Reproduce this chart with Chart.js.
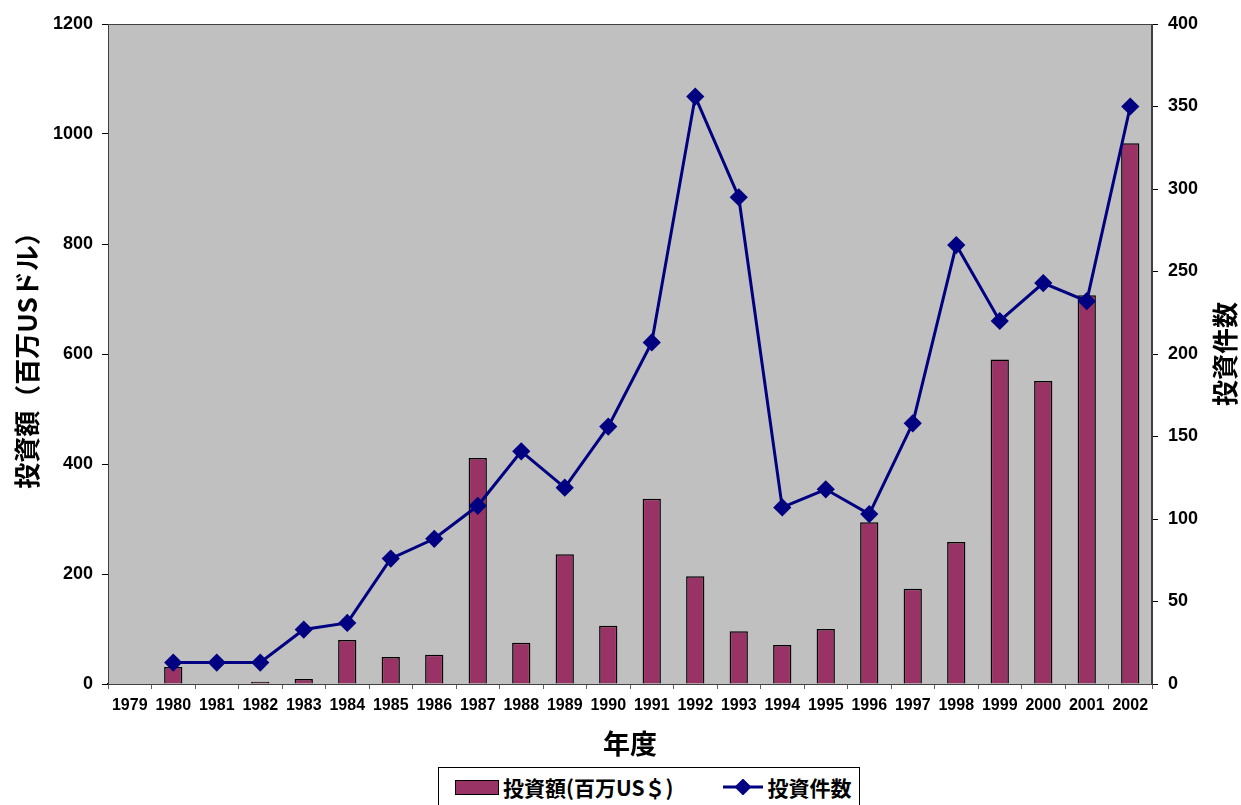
<!DOCTYPE html>
<html>
<head>
<meta charset="utf-8">
<script src="https://cdn.jsdelivr.net/npm/chart.js@4/dist/chart.umd.min.js"></script>
<style>
  body { margin: 0; background: #fff; overflow: hidden; }
  #wrap { position: relative; width: 1241px; height: 805px; }
  #legend {
    position: absolute; left: 438px; top: 767px; width: 422px; height: 40px;
    border: 1px solid #000; background: #fff; box-sizing: border-box;
    font-family: 'Noto Sans CJK JP', sans-serif; font-weight: bold; font-size: 21px;
    display: flex; align-items: center;
  }
  #legend .item { display: flex; align-items: center; }
  #legend .swatch { width: 42px; height: 13px; background: #993366; border: 1px solid #000; margin: 0 4px 0 16px; }
  #legend svg { margin: 0 4px 0 50px; }
</style>
</head>
<body>
<div id="wrap">
  <canvas id="chart" width="1241" height="805"></canvas>
  <div id="legend">
    <div class="item"><div class="swatch"></div><span>投資額(百万US＄)</span></div>
    <div class="item">
      <svg width="40" height="16"><line x1="0" y1="8" x2="40" y2="8" stroke="#000080" stroke-width="3"/><rect x="14" y="2" width="12" height="12" fill="#000080" transform="rotate(45 20 8)"/></svg>
      <span>投資件数</span>
    </div>
  </div>
</div>
<script>
// Data
const years = ['1979', '1980', '1981', '1982', '1983', '1984', '1985', '1986', '1987', '1988', '1989', '1990',
  '1991', '1992', '1993', '1994', '1995', '1996', '1997', '1998', '1999', '2000', '2001', '2002'];
// 投資額 (百万USドル) - left axis
const amounts = [null, 31, null, 4, 9, 80, 49, 53, 411, 75, 236, 106, 337, 196, 96, 71, 100, 294, 173, 258, 590, 551, 707, 983];
// 投資件数 - right axis
const counts = [null, 13, 13, 13, 33, 37, 76, 88, 108, 141, 119, 156, 207, 356, 295, 107, 118, 103, 158, 266, 220, 243, 232, 350];

const leftTicks = { min: 0, max: 1200, step: 200 };
const rightTicks = { min: 0, max: 400, step: 50 };

const tickFont = { family: "'Liberation Sans', Arial, sans-serif", weight: 'bold', size: 18 };
const titleFont = { family: "'Noto Sans CJK JP', sans-serif", weight: 'bold', size: 26 };

// Grey plot area + border, right axis title drawn reading bottom-to-top
const plotBox = {
  id: 'plotBox',
  beforeDatasetsDraw(chart) {
    const { ctx, chartArea: a } = chart;
    ctx.save();
    ctx.fillStyle = '#c0c0c0';
    ctx.fillRect(a.left, a.top, a.right - a.left, a.bottom - a.top);
    ctx.restore();
  },
  afterDraw(chart) {
    const { ctx, chartArea: a } = chart;
    ctx.save();
    ctx.strokeStyle = '#404040';
    ctx.lineWidth = 1;
    ctx.strokeRect(a.left + 0.5, a.top + 0.5, a.right - a.left - 1, a.bottom - a.top);
    ctx.translate(1225, (a.top + a.bottom) / 2);
    ctx.rotate(-Math.PI / 2);
    ctx.fillStyle = '#000';
    ctx.font = "bold 26px 'Noto Sans CJK JP', sans-serif";
    ctx.textAlign = 'center';
    ctx.textBaseline = 'middle';
    ctx.fillText('投資件数', 0, 0);
    ctx.restore();
  }
};

new Chart(document.getElementById('chart'), {
  data: {
    labels: years,
    datasets: [
      {
        type: 'line',
        label: '投資件数',
        data: counts,
        yAxisID: 'y1',
        order: 0,
        borderColor: '#000080',
        backgroundColor: '#000080',
        borderWidth: 3,
        pointStyle: 'rectRot',
        pointRadius: 7,
        pointHoverRadius: 7,
        tension: 0
      },
      {
        type: 'bar',
        label: '投資額(百万US＄)',
        data: amounts,
        yAxisID: 'y',
        order: 1,
        backgroundColor: '#993366',
        borderColor: '#000',
        borderWidth: 1.5,
        categoryPercentage: 1,
        barPercentage: 0.42
      }
    ]
  },
  options: {
    responsive: false,
    animation: false,
    layout: { padding: { top: 24, bottom: 45, left: 0, right: 0 } },
    plugins: { legend: { display: false }, tooltip: { enabled: false } },
    scales: {
      x: {
        offset: true,
        grid: { offset: true, drawOnChartArea: false, tickLength: 5, color: '#606060' },
        border: { color: '#000', width: 1.5 },
        ticks: {
          color: '#000', maxRotation: 0, autoSkip: false, padding: 7,
          font: { family: "'Liberation Sans', Arial, sans-serif", weight: 'bold', size: 16 }
        },
        title: { display: true, text: '年度', color: '#000', font: { ...titleFont, size: 27 }, padding: { top: 0, bottom: 0 } },
        afterFit(scale) { scale.height = 76; }
      },
      y: {
        position: 'left',
        min: leftTicks.min, max: leftTicks.max,
        grid: { drawOnChartArea: false, tickLength: 6, color: '#000' },
        border: { color: '#000', width: 1 },
        ticks: { stepSize: leftTicks.step, color: '#000', padding: 9, font: tickFont, callback: v => String(v) },
        title: { display: true, text: '投資額（百万USドル）', color: '#000', font: titleFont, padding: { top: 12, bottom: 0 } },
        afterFit(scale) { scale.width = 108; }
      },
      y1: {
        position: 'right',
        min: rightTicks.min, max: rightTicks.max,
        grid: { drawOnChartArea: false, tickLength: 6, color: '#000' },
        border: { color: '#404040', width: 1 },
        ticks: { stepSize: rightTicks.step, color: '#000', padding: 10, font: tickFont, callback: v => String(v) },
        afterFit(scale) { scale.width = 89; }
      }
    }
  },
  plugins: [plotBox]
});
</script>
</body>
</html>
